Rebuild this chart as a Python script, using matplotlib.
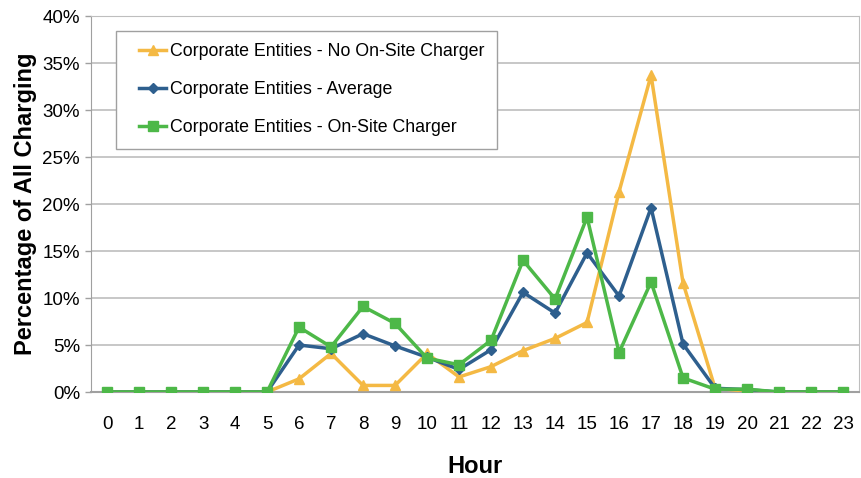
import matplotlib.pyplot as plt
from matplotlib.lines import Line2D
from matplotlib.legend_handler import HandlerLine2D
from matplotlib.ticker import MultipleLocator, FuncFormatter

plt.rcParams['font.family'] = ['Liberation Sans', 'DejaVu Sans']

hours = list(range(24))

# percentage of all charging per hour
no_onsite = [0, 0, 0, 0, 0, 0, 1.4, 4.1, 0.7, 0.7, 4.1, 1.6,
             2.7, 4.4, 5.7, 7.4, 21.3, 33.7, 11.6, 0.4, 0.1, 0, 0, 0]
average = [0, 0, 0, 0, 0, 0, 5.0, 4.6, 6.2, 4.9, 3.7, 2.4,
           4.5, 10.6, 8.4, 14.8, 10.2, 19.6, 5.1, 0.4, 0.25, 0, 0, 0]
onsite = [0, 0, 0, 0, 0, 0, 6.9, 4.8, 9.1, 7.3, 3.6, 2.9,
          5.5, 14.0, 9.9, 18.6, 4.2, 11.7, 1.5, 0.3, 0.3, 0, 0, 0]

fig = plt.figure(figsize=(8.62, 4.78), dpi=100)
ax = fig.add_axes([0.1056, 0.1799, 0.891, 0.7866])

ax.plot(hours, no_onsite, color="#F4B944", marker="^", markersize=7,
        linewidth=2.5, label="Corporate Entities - No On-Site Charger", zorder=3)
ax.plot(hours, average, color="#2E5F8E", marker="D", markersize=5,
        linewidth=2.5, label="Corporate Entities - Average", zorder=4)
ax.plot(hours, onsite, color="#4DB848", marker="s", markersize=7,
        linewidth=2.5, label="Corporate Entities - On-Site Charger", zorder=5)

ax.set_xlim(-0.5, 23.5)
ax.set_ylim(0, 40)
ax.set_xticks(hours)
ax.yaxis.set_major_locator(MultipleLocator(5))
ax.yaxis.set_major_formatter(FuncFormatter(lambda v, p: f"{v:.0f}%"))
ax.grid(axis="y", color="#BEBEBE", linewidth=1.2)
ax.set_axisbelow(True)

for side in ["top", "right"]:
    ax.spines[side].set_color("#BEBEBE")
ax.spines["left"].set_color("#A0A0A0")
ax.spines["bottom"].set_color("#A0A0A0")
ax.spines["bottom"].set_linewidth(1.5)
ax.tick_params(axis="x", length=0, pad=17, labelsize=13.5)
ax.tick_params(axis="y", length=4, width=1, color="#A0A0A0", pad=4, labelsize=13.5)

ax.set_xlabel("Hour", fontsize=17, fontweight="bold", labelpad=16)
ax.set_ylabel("Percentage of All Charging", fontsize=17, fontweight="bold", labelpad=4)

# short handles set in a bit from the left edge of the box
leg = ax.legend(loc="upper left", bbox_to_anchor=(0.0326, 0.96), fontsize=12.8,
                fancybox=False, framealpha=1, edgecolor="#A0A0A0",
                handlelength=2.1, handletextpad=0.25, labelspacing=1.17,
                borderpad=0.7, borderaxespad=0,
                handler_map={Line2D: HandlerLine2D(xpad=0.6)})
leg.get_frame().set_linewidth(1.0)

fig.savefig("out.png", dpi=100)
